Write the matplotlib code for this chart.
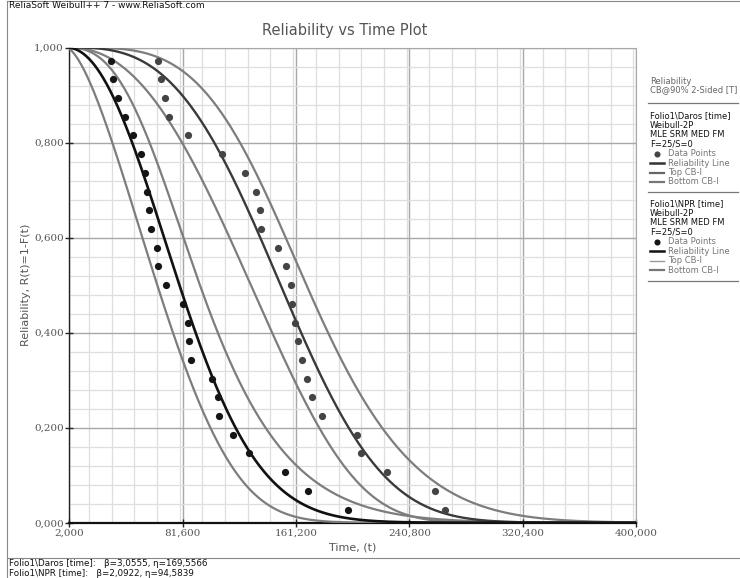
import numpy as np
import matplotlib
matplotlib.use("Agg")
import matplotlib.pyplot as plt
from matplotlib.lines import Line2D
from matplotlib.ticker import FuncFormatter, MultipleLocator, FixedLocator

# ---------------- data ----------------
n_fail = 25
conf_z = 1.6449          # 90% 2-sided
# Weibull fits (from footer)
daros_beta, daros_eta = 3.0555, 169.5566
npr_beta, npr_eta = 2.0922, 94.5839
# asymptotic Fisher variance coefficients for u = beta*(ln t - ln eta)
fisher_a, fisher_b, fisher_c = 1.109, -0.514, 0.58

# failure times
npr_times = [31.3, 33.0, 36.3, 41.4, 46.8, 52.4, 55.2, 56.6, 58.2, 59.6,
             63.4, 64.5, 70.2, 82.1, 85.2, 86.3, 87.3, 102.5, 106.2, 107.4,
             117.2, 128.2, 153.3, 169.8, 197.9]
daros_times = [64.0, 66.6, 69.4, 72.3, 85.4, 109.4, 125.1, 133.3, 136.0, 136.3,
               148.8, 154.0, 157.9, 158.7, 160.7, 162.3, 165.2, 169.1, 172.2, 179.2,
               203.8, 207.0, 224.9, 258.8, 265.8]

x_ticks = [2.0, 81.6, 161.2, 240.8, 320.4, 400.0]
y_ticks = [0.0, 0.2, 0.4, 0.6, 0.8, 1.0]

W, H = 740, 578
fig = plt.figure(figsize=(W / 100, H / 100), dpi=100)


def fx(x):
    return x / W


def fy(y):
    return 1 - y / H


ax = fig.add_axes([fx(69.2), fy(522.7), 567 / W, 475.2 / H])

t = np.linspace(2.0, 400.0, 800)


def curves(beta, eta):
    u = beta * (np.log(t) - np.log(eta))
    var = (fisher_a + fisher_b * u + fisher_c * u ** 2) / n_fail
    d = conf_z * np.sqrt(var)
    r = np.exp(-np.exp(u))
    top = np.exp(-np.exp(u - d))
    bot = np.exp(-np.exp(u + d))
    return r, top, bot


def median_ranks(n):
    i = np.arange(1, n + 1)
    return 1 - (i - 0.3) / (n + 0.4)


bound_col = "#7d7d7d"
d_r, d_top, d_bot = curves(daros_beta, daros_eta)
n_r, n_top, n_bot = curves(npr_beta, npr_eta)

for c in (d_top, d_bot, n_top, n_bot):
    ax.plot(t, c, color=bound_col, lw=1.6, zorder=3)
ax.plot(t, d_r, color="#3a3a3a", lw=1.7, zorder=4)
ax.plot(t, n_r, color="#111111", lw=1.9, zorder=4)

ax.plot(daros_times, median_ranks(len(daros_times)), "o", color="#444444",
        ms=5.2, mec="none", zorder=5)
ax.plot(npr_times, median_ranks(len(npr_times)), "o", color="#151515",
        ms=5.2, mec="none", zorder=5)

ax.set_xlim(2, 400)
ax.set_ylim(0, 1)
ax.xaxis.set_major_locator(FixedLocator(x_ticks))
ax.xaxis.set_minor_locator(MultipleLocator((x_ticks[1] - x_ticks[0]) / 5))
ax.yaxis.set_major_locator(FixedLocator(y_ticks))
ax.yaxis.set_minor_locator(MultipleLocator(0.04))
fmt = FuncFormatter(lambda v, p: f"{v:.3f}".replace(".", ","))
ax.xaxis.set_major_formatter(fmt)
ax.yaxis.set_major_formatter(fmt)
ax.grid(which="major", color="#a8a8a8", lw=1.0, zorder=1)
ax.grid(which="minor", color="#dedede", lw=0.9, zorder=0)
ax.set_axisbelow(True)
ax.tick_params(which="major", direction="inout", length=6, width=1.0,
               colors="#222222", labelcolor="#555555", labelsize=7.5, pad=1)
ax.tick_params(which="minor", length=0)
for lab in ax.get_xticklabels() + ax.get_yticklabels():
    lab.set_family("DejaVu Serif")
ax.spines["left"].set_color("#222222")
ax.spines["bottom"].set_color("#111111")
ax.spines["bottom"].set_linewidth(1.6)
ax.spines["left"].set_linewidth(1.0)
ax.spines["top"].set_color("#a8a8a8")
ax.spines["right"].set_color("#a8a8a8")

ax.set_xlabel("Time, (t)", color="#555555", fontsize=8, labelpad=4)
ax.set_ylabel("Reliability, R(t)=1-F(t)", color="#555555", fontsize=8, labelpad=2)

# header / title
fig.text(fx(9), fy(6), "ReliaSoft Weibull++ 7 - www.ReliaSoft.com",
         fontsize=6.5, color="#111111", va="center", ha="left")
fig.text(fx(345), fy(30), "Reliability vs Time Plot", fontsize=10.5,
         color="#555555", va="center", ha="center")

# frame lines
fig.add_artist(Line2D([fx(6.5), fx(6.5)], [fy(1), fy(578)], color="#888888", lw=0.8))
fig.add_artist(Line2D([fx(6.5), 1], [fy(1), fy(1)], color="#888888", lw=0.8))
fig.add_artist(Line2D([fx(6.5), 1], [fy(558), fy(558)], color="#888888", lw=0.8))

# footer
fig.text(fx(9), fy(563), "Folio1\\Daros [time]:   \u03b2=3,0555, \u03b7=169,5566",
         fontsize=6.3, color="#111111", va="center")
fig.text(fx(9), fy(573), "Folio1\\NPR [time]:   \u03b2=2,0922, \u03b7=94,5839",
         fontsize=6.3, color="#111111", va="center")

# custom legend on the right
lx = 650
fs = 6.0
fig.text(fx(lx), fy(81), "Reliability", fontsize=fs, color="#666666", va="center")
fig.text(fx(lx), fy(90), "CB@90% 2-Sided [T]", fontsize=fs, color="#666666", va="center")


def sep(y):
    fig.add_artist(Line2D([fx(648), fx(738)], [fy(y), fy(y)], color="#777777", lw=0.9))


def block(y0, name, pt_col, rel_col, top_col, top_lw, bot_col):
    lines = [name, "Weibull-2P", "MLE SRM MED FM", "F=25/S=0"]
    for k, s in enumerate(lines):
        fig.text(fx(lx), fy(y0 + 9.2 * k), s, fontsize=fs, color="#111111", va="center")
    items = [("Data Points", None), ("Reliability Line", (rel_col, 1.8)),
             ("Top CB-I", (top_col, top_lw)), ("Bottom CB-I", (bot_col, 1.6))]
    for k, (s, sty) in enumerate(items):
        y = y0 + 37.5 + 9.5 * k
        fig.text(fx(668), fy(y), s, fontsize=fs, color="#777777", va="center")
        if sty is None:
            fig.add_artist(Line2D([fx(657)], [fy(y)], marker="o", ms=4.4,
                                  color=pt_col, mec="none", lw=0))
        else:
            fig.add_artist(Line2D([fx(650), fx(664)], [fy(y), fy(y)],
                                  color=sty[0], lw=sty[1]))


sep(103)
block(116, "Folio1\\Daros [time]", "#444444", "#333333", "#666666", 1.6, "#777777")
sep(192)
block(204, "Folio1\\NPR [time]", "#151515", "#111111", "#9a9a9a", 1.0, "#777777")
sep(281)

fig.savefig("out.png", dpi=100)
